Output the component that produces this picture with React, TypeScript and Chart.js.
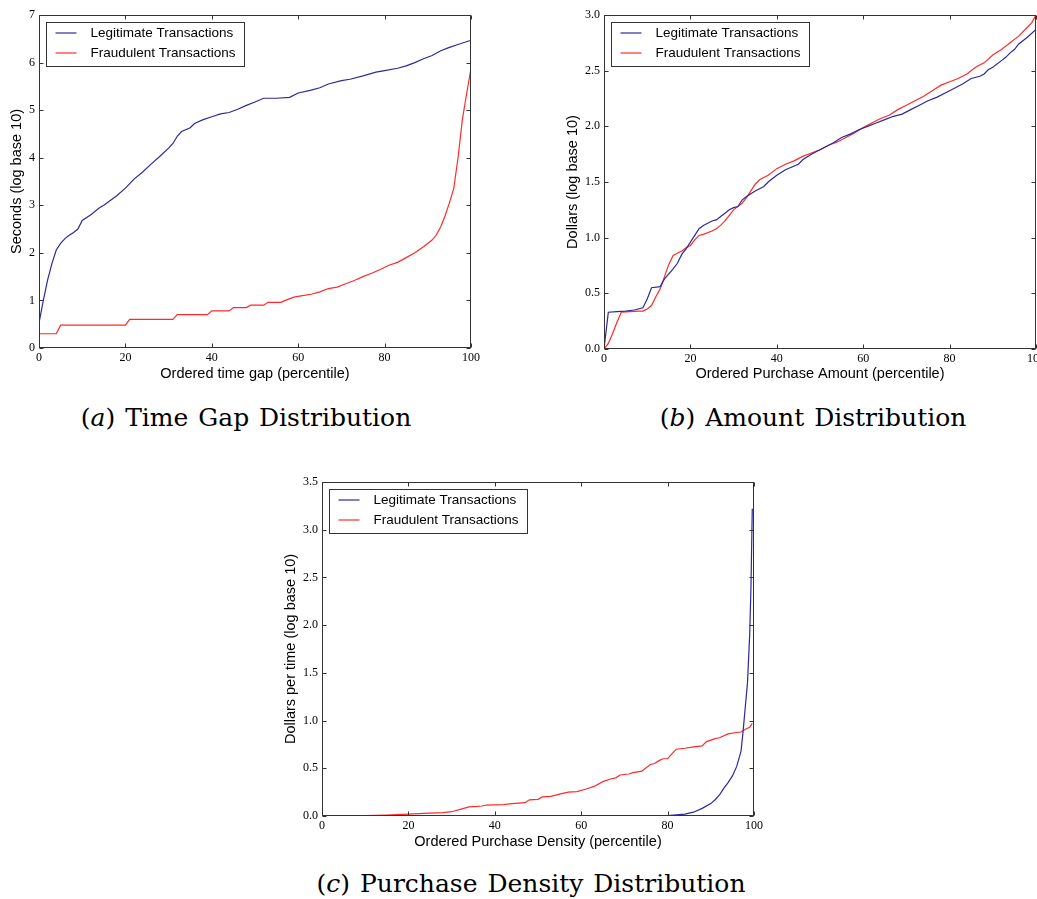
import React, { useEffect, useRef } from "react";
import { Chart, registerables } from "chart.js";

Chart.register(...registerables);

// ---------- (a) Time gap distribution ----------
const aLegitX = [0,1,2,3,4,5,6,7,8,9,10,12,14,15,18,20,22,24,26,28,30,31,32,33,35,36,38,40,42,44,46,48,50,52,55,58,60,63,65,67,70,72,75,78,80,83,85,87,89,91,93,95,97,100];
const aLegitY = [0.52,1.0,1.43,1.78,2.06,2.2,2.3,2.37,2.43,2.5,2.68,2.8,2.95,3.0,3.2,3.36,3.55,3.7,3.87,4.03,4.2,4.3,4.45,4.55,4.63,4.72,4.8,4.86,4.92,4.95,5.02,5.1,5.17,5.25,5.25,5.27,5.36,5.42,5.47,5.55,5.62,5.65,5.72,5.8,5.83,5.88,5.93,6.0,6.08,6.15,6.25,6.32,6.38,6.47];
const aFraudX = [0,4,5,20,21,31,32,39,40,44,45,48,49,52,53,56,57,59,61,63,65,67,69,71,73,75,77,79,81,83,85,87,89,91,92,93,94,95,96,97,98,99,100];
const aFraudY = [0.3,0.3,0.48,0.48,0.6,0.6,0.7,0.7,0.78,0.78,0.85,0.85,0.9,0.9,0.96,0.96,1.0,1.07,1.1,1.13,1.18,1.25,1.28,1.35,1.42,1.5,1.57,1.65,1.74,1.8,1.9,2.0,2.13,2.27,2.38,2.55,2.78,3.05,3.35,4.0,4.8,5.35,5.88];

// ---------- (b) Amount distribution ----------
const bLegitX = [0,1,3,5,7,9,10,11,13,14,16,17,18,19,20,21,22,23,24,25,26,27,28,29,30,31,32,33,35,37,38,40,42,45,46,48,50,52,53,55,57,59,61,63,65,67,69,71,73,75,77,79,81,83,85,87,88,89,90,92,93,94,95,96,98,100];
const bLegitY = [0.0,0.33,0.335,0.34,0.35,0.37,0.45,0.55,0.56,0.63,0.72,0.77,0.85,0.9,0.96,1.02,1.08,1.11,1.13,1.15,1.16,1.19,1.22,1.25,1.27,1.28,1.34,1.37,1.42,1.46,1.5,1.56,1.61,1.66,1.7,1.75,1.79,1.83,1.85,1.9,1.93,1.97,2.0,2.03,2.06,2.09,2.11,2.15,2.19,2.23,2.26,2.3,2.34,2.38,2.43,2.45,2.47,2.51,2.53,2.59,2.62,2.66,2.69,2.74,2.8,2.87];
const bFraudX = [0,1,2,3,4,6,8,9,10,11,12,13,14,15,16,17,18,19,20,21,22,23,25,26,27,28,29,30,32,33,34,35,36,38,40,42,44,46,48,50,52,54,56,58,60,62,64,66,68,70,72,74,76,78,80,82,84,86,88,90,92,94,96,98,99,100];
const bFraudY = [0.0,0.05,0.14,0.24,0.33,0.335,0.34,0.34,0.36,0.39,0.47,0.54,0.65,0.76,0.84,0.86,0.88,0.91,0.93,0.98,1.02,1.03,1.06,1.08,1.11,1.15,1.2,1.25,1.31,1.36,1.42,1.48,1.52,1.56,1.62,1.66,1.69,1.73,1.76,1.79,1.83,1.86,1.9,1.94,1.99,2.03,2.07,2.1,2.15,2.19,2.23,2.27,2.32,2.37,2.4,2.43,2.47,2.53,2.57,2.64,2.69,2.75,2.81,2.89,2.93,3.0];

// ---------- (c) Purchase density distribution ----------
const cLegitX = [0,40,70,80,84,86,88,90,91,92,93,94,95,96,97,97.5,98,98.5,99,99.3,99.6];
const cLegitY = [0,0,0.002,0.005,0.02,0.04,0.08,0.13,0.17,0.22,0.29,0.35,0.42,0.52,0.68,0.9,1.15,1.4,1.9,2.4,3.22];
const cFraudX = [0,10,15,20,25,28,30,32,34,36,37,38,42,44,47,48,50,51,53,55,57,59,61,63,65,67,68,69,71,72,74,76,77,78,79,80,81,82,84,86,88,89,91,92,94,96,97,98,99,99.6];
const cFraudY = [0.0,0.005,0.01,0.02,0.03,0.035,0.045,0.07,0.095,0.1,0.105,0.115,0.12,0.13,0.14,0.17,0.175,0.2,0.205,0.23,0.25,0.255,0.28,0.31,0.36,0.39,0.4,0.43,0.44,0.455,0.47,0.54,0.55,0.58,0.6,0.6,0.65,0.7,0.71,0.725,0.735,0.78,0.81,0.82,0.86,0.875,0.88,0.91,0.93,0.97];

const seriesNames = ["Legitimate Transactions", "Fraudulent Transactions"];
const captions = ["Time Gap Distribution", "Amount Distribution", "Purchase Density Distribution"];
const captionTags = ["a", "b", "c"];

const BLUE = "#2a2a9c";
const RED = "#ff2a2a";
const TICK_FONT = { family: "'Liberation Serif', 'Times New Roman', serif", size: 12 };
const LABEL_FONT = { family: "'Liberation Sans', Arial, sans-serif", size: 14.5 };
const LEGEND_FONT = { family: "'Liberation Sans', Arial, sans-serif", size: 13.5 };

const pts = (xs: number[], ys: number[]) => xs.map((x, i) => ({ x, y: ys[i] }));

const frameTicks = {
  id: "frameTicks",
  afterDatasetsDraw(chart: any) {
    const { ctx, chartArea: a, scales } = chart;
    const L = Math.round(a.left) + 0.5, R = Math.round(a.right) - 0.5;
    const T = Math.round(a.top) + 0.5, B = Math.round(a.bottom) - 0.5;
    ctx.save();
    ctx.strokeStyle = "#333";
    ctx.lineWidth = 1;
    ctx.beginPath();
    const len = 4;
    scales.x.ticks.forEach((t: any) => {
      const px = Math.round(scales.x.getPixelForValue(t.value)) + 0.5;
      ctx.moveTo(px, B); ctx.lineTo(px, B - len);
      ctx.moveTo(px, T); ctx.lineTo(px, T + len);
    });
    scales.y.ticks.forEach((t: any) => {
      const py = Math.round(scales.y.getPixelForValue(t.value)) + 0.5;
      ctx.moveTo(L, py); ctx.lineTo(L + len, py);
      ctx.moveTo(R, py); ctx.lineTo(R - len, py);
    });
    ctx.stroke();
    ctx.strokeRect(L, T, R - L, B - T);
    ctx.restore();
  },
};

const mplLegend = {
  id: "mplLegend",
  afterDraw(chart: any, _args: any, opts: any) {
    const { ctx, chartArea: a } = chart;
    const x = Math.round(a.left) + 7.5, y = Math.round(a.top) + 7.5;
    const w = opts.width, h = 44;
    ctx.save();
    ctx.fillStyle = "#fff";
    ctx.fillRect(x, y, w, h);
    ctx.strokeStyle = "#333";
    ctx.lineWidth = 1;
    ctx.strokeRect(x, y, w, h);
    const colors = [BLUE, RED];
    ctx.font = `${LEGEND_FONT.size}px ${LEGEND_FONT.family}`;
    ctx.textBaseline = "middle";
    ctx.textAlign = "left";
    seriesNames.forEach((name, i) => {
      const cy = y + 10.5 + i * 20;
      ctx.strokeStyle = colors[i];
      ctx.lineWidth = 1.2;
      ctx.beginPath();
      ctx.moveTo(x + 9, cy);
      ctx.lineTo(x + 30, cy);
      ctx.stroke();
      ctx.fillStyle = "#000";
      ctx.fillText(name, x + 44, cy + 0.5);
    });
    ctx.restore();
  },
};

type Cfg = {
  legit: { x: number; y: number }[];
  fraud: { x: number; y: number }[];
  yMax: number;
  yDecimals: number;
  xTitle: string;
  yTitle: string;
  yAxisWidth: number;
  xAxisHeight: number;
  padTop: number;
  padRight: number;
  yTitlePad: number;
  xTitlePad: number;
  legendWidth: number;
};

function PlotCanvas({ cfg, style }: { cfg: Cfg; style: React.CSSProperties }) {
  const ref = useRef<HTMLCanvasElement | null>(null);
  useEffect(() => {
    if (!ref.current) return;
    const chart = new Chart(ref.current, {
      type: "scatter",
      data: {
        datasets: [
          { label: seriesNames[0], data: cfg.legit, showLine: true, borderColor: BLUE, borderWidth: 1.2, pointRadius: 0, tension: 0 },
          { label: seriesNames[1], data: cfg.fraud, showLine: true, borderColor: RED, borderWidth: 1.2, pointRadius: 0, tension: 0 },
        ],
      },
      options: {
        animation: false,
        responsive: false,
        maintainAspectRatio: false,
        layout: { padding: { left: 0, top: cfg.padTop, right: cfg.padRight, bottom: 0 } },
        plugins: {
          legend: { display: false },
          tooltip: { enabled: false },
          mplLegend: { width: cfg.legendWidth },
        } as any,
        scales: {
          x: {
            type: "linear",
            min: 0,
            max: 100,
            grid: { display: false, drawTicks: false, drawOnChartArea: false },
            border: { display: false },
            ticks: { stepSize: 20, font: TICK_FONT, color: "#000", padding: 3, maxRotation: 0 },
            title: { display: true, text: cfg.xTitle, font: LABEL_FONT, color: "#000", padding: { top: 0, bottom: cfg.xTitlePad } },
            afterFit: (s: any) => { s.height = cfg.xAxisHeight; },
          },
          y: {
            type: "linear",
            min: 0,
            max: cfg.yMax,
            grid: { display: false, drawTicks: false, drawOnChartArea: false },
            border: { display: false },
            ticks: {
              stepSize: cfg.yDecimals ? 0.5 : 1,
              font: TICK_FONT,
              color: "#000",
              padding: 4,
              callback: (v: any) => Number(v).toFixed(cfg.yDecimals),
            },
            title: { display: true, text: cfg.yTitle, font: LABEL_FONT, color: "#000", padding: { top: cfg.yTitlePad, bottom: 0 } },
            afterFit: (s: any) => { s.width = cfg.yAxisWidth; },
          },
        },
      },
      plugins: [frameTicks, mplLegend],
    } as any);
    return () => chart.destroy();
  }, []);
  const w = style.width as number, h = style.height as number;
  return <canvas ref={ref} width={w} height={h} style={{ position: "absolute", ...style }} />;
}

const cfgA: Cfg = {
  legit: pts(aLegitX, aLegitY), fraud: pts(aFraudX, aFraudY), yMax: 7, yDecimals: 0,
  xTitle: "Ordered time gap (percentile)", yTitle: "Seconds (log base 10)",
  yAxisWidth: 39, xAxisHeight: 42, padTop: 15, padRight: 29, yTitlePad: 8, xTitlePad: 7, legendWidth: 198,
};
const cfgB: Cfg = {
  legit: pts(bLegitX, bLegitY), fraud: pts(bFraudX, bFraudY), yMax: 3, yDecimals: 1,
  xTitle: "Ordered Purchase Amount (percentile)", yTitle: "Dollars (log base 10)",
  yAxisWidth: 64, xAxisHeight: 41, padTop: 15, padRight: 24, yTitlePad: 24, xTitlePad: 7, legendWidth: 198,
};
const cfgC: Cfg = {
  legit: pts(cLegitX, cLegitY), fraud: pts(cFraudX, cFraudY), yMax: 3.5, yDecimals: 1,
  xTitle: "Ordered Purchase Density (percentile)", yTitle: "Dollars per time (log base 10)",
  yAxisWidth: 52, xAxisHeight: 44, padTop: 12, padRight: 26, yTitlePad: 12, xTitlePad: 9, legendWidth: 198,
};

const captionStyle: React.CSSProperties = {
  position: "absolute",
  transform: "translateX(-50%)",
  whiteSpace: "nowrap",
  fontFamily: "'DejaVu Serif', serif",
  fontSize: 25,
  wordSpacing: 2,
  lineHeight: "30px",
  color: "#000",
};

function Caption({ tag, text, cx, top }: { tag: string; text: string; cx: number; top: number }) {
  return (
    <div style={{ ...captionStyle, left: cx, top }}>
      (<i>{tag}</i>) {text}
    </div>
  );
}

export default function App() {
  return (
    <div style={{ position: "fixed", left: 0, top: 0, width: 1037, height: 899, overflow: "hidden", background: "#fff" }}>
      <PlotCanvas cfg={cfgA} style={{ left: 0, top: 0, width: 500, height: 390 }} />
      <PlotCanvas cfg={cfgB} style={{ left: 540, top: 0, width: 520, height: 390 }} />
      <PlotCanvas cfg={cfgC} style={{ left: 270, top: 470, width: 510, height: 390 }} />
      <Caption tag={captionTags[0]} text={captions[0]} cx={246} top={403} />
      <Caption tag={captionTags[1]} text={captions[1]} cx={813} top={403} />
      <Caption tag={captionTags[2]} text={captions[2]} cx={531} top={869} />
    </div>
  );
}
